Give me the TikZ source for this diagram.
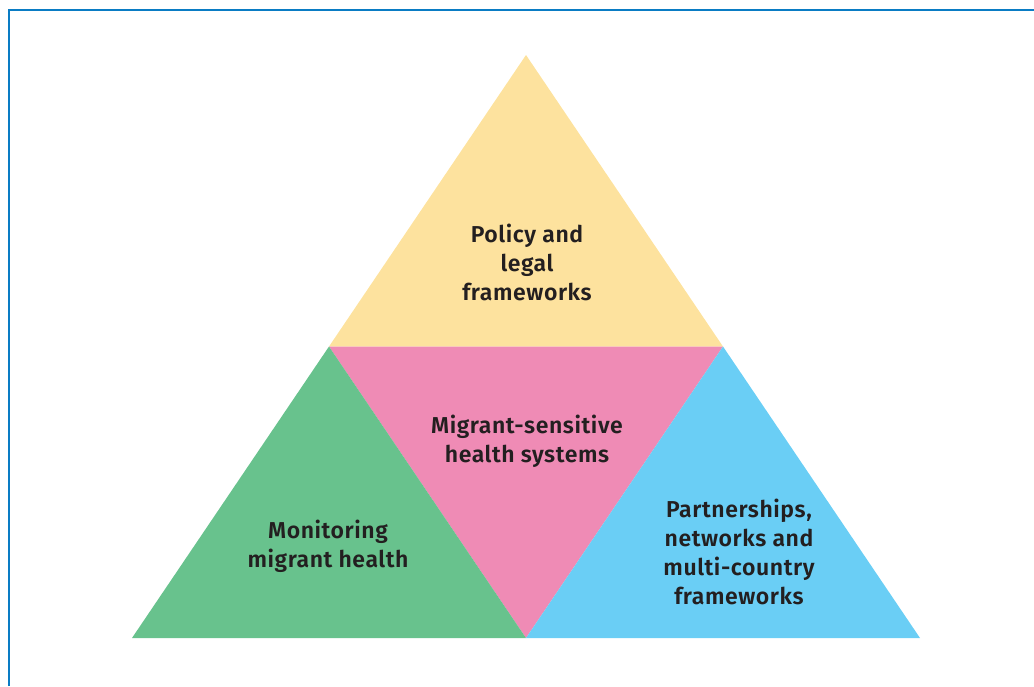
\documentclass[tikz,border=0pt]{standalone}
\usepackage{fontspec}
\setmainfont{Fira Sans}[BoldFont={Fira Sans SemiBold}, BoldFeatures={LetterSpace=2.5}]
\usepackage{tikz}
\definecolor{framblue}{HTML}{0A7CC4}
\definecolor{polyellow}{HTML}{FDE29E}
\definecolor{syspink}{HTML}{EF8BB5}
\definecolor{mongreen}{HTML}{68C28D}
\definecolor{partblue}{HTML}{6ACEF5}
\definecolor{labtext}{HTML}{231F20}

\begin{document}
\begin{tikzpicture}[x=0.5pt, y=-0.5pt,
    label/.style={align=center, text=labtext, font=\bfseries\fontsize{11.5}{14.5}\selectfont, inner sep=0pt}]
    \useasboundingbox (0, 0) rectangle (1034, 686);
    \draw[framblue, line width=1pt] (9, 686) -- (9, 10) -- (1034, 10);
    \coordinate (apex) at (526, 55);
    \coordinate (bl) at (132, 638);
    \coordinate (br) at (920, 638);
    \coordinate (ml) at (329, 346.5);
    \coordinate (mr) at (723, 346.5);
    \coordinate (mb) at (526, 638);
    \fill[polyellow] (apex) -- (ml) -- (mr) -- cycle;
    \fill[syspink] (ml) -- (mr) -- (mb) -- cycle;
    \fill[mongreen] (ml) -- (bl) -- (mb) -- cycle;
    \fill[partblue] (mr) -- (mb) -- (br) -- cycle;
    \node[label] (policy) at (527, 262) {Policy and\\legal\\frameworks};
    \node[label] (system) at (527, 441) {Migrant-sensitive\\health systems};
    \node[label] (monitor) at (328, 546) {Monitoring\\migrant health};
    \node[label] (partner) at (739, 552) {Partnerships,\\networks and\\multi-country\\frameworks};
\end{tikzpicture}
\end{document}
